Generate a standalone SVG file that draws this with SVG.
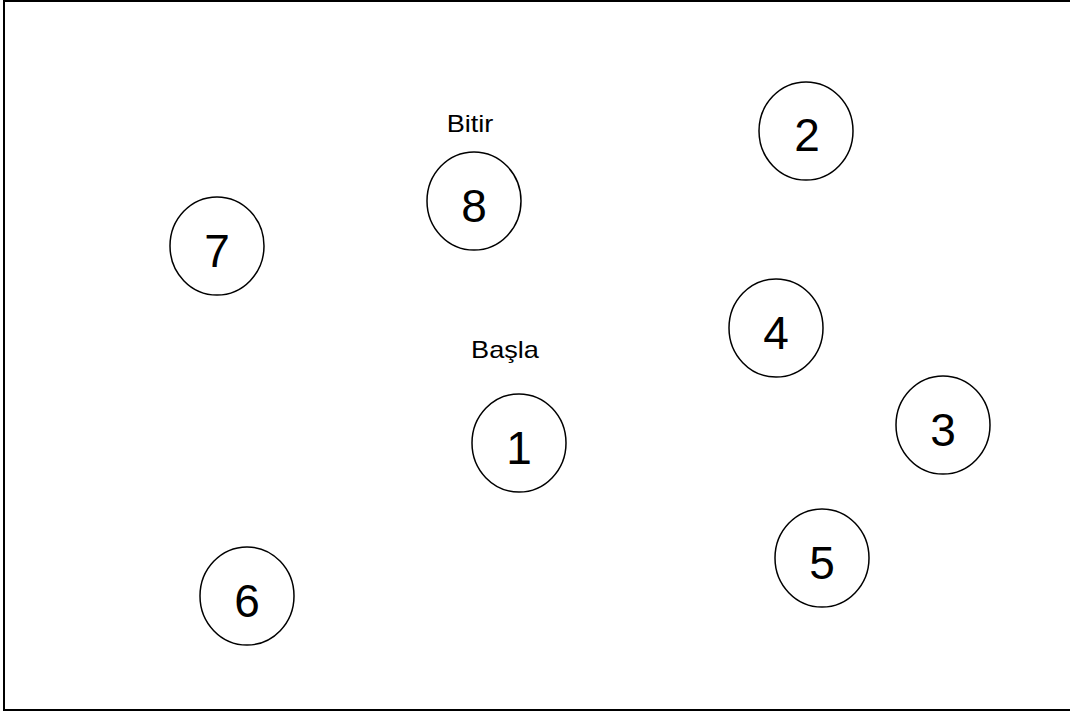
<svg xmlns="http://www.w3.org/2000/svg" width="1070" height="713" viewBox="0 0 1070 713">
<style>
.n{fill:#fff;stroke:#000;stroke-width:1.5}
.d{font-family:"Liberation Sans",Arial,sans-serif;font-size:46px;fill:#000;text-anchor:middle}
.l{font-family:"Liberation Sans",Arial,sans-serif;font-size:23px;fill:#000;text-anchor:middle}
</style>
<rect x="0" y="0" width="1070" height="713" fill="#fff"/>
<rect x="4" y="1" width="1072" height="709" fill="none" stroke="#000" stroke-width="2"/>
<g id="connectors"></g>
<g id="node1"><ellipse class="n" cx="519" cy="443" rx="47" ry="49"/><text class="d" x="519" y="464">1</text></g>
<g id="node2"><ellipse class="n" cx="806" cy="131" rx="47" ry="49"/><text class="d" x="807" y="151">2</text></g>
<g id="node3"><ellipse class="n" cx="943" cy="425" rx="47" ry="49"/><text class="d" x="943" y="446">3</text></g>
<g id="node4"><ellipse class="n" cx="776" cy="328" rx="47" ry="49"/><text class="d" x="776" y="349">4</text></g>
<g id="node5"><ellipse class="n" cx="822" cy="558" rx="47" ry="49"/><text class="d" x="822" y="579">5</text></g>
<g id="node6"><ellipse class="n" cx="247" cy="596" rx="47" ry="49"/><text class="d" x="247" y="617">6</text></g>
<g id="node7"><ellipse class="n" cx="217" cy="246" rx="47" ry="49"/><text class="d" x="217" y="267">7</text></g>
<g id="node8"><ellipse class="n" cx="474" cy="201" rx="47" ry="49"/><text class="d" x="474" y="222">8</text></g>
<g id="label-bitir"><text class="l" transform="translate(470 132) scale(1.18 1)">Bitir</text></g>
<g id="label-basla"><text class="l" transform="translate(505 358) scale(1.18 1)">Başla</text></g>
</svg>
